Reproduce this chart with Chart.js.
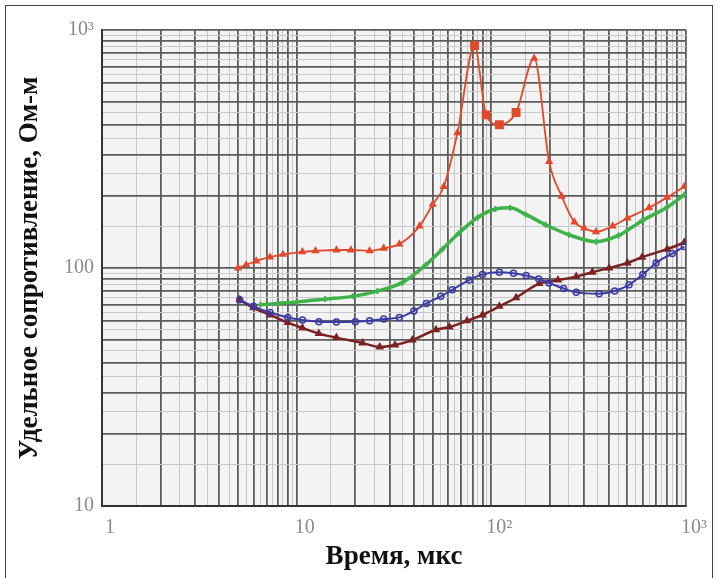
<!DOCTYPE html>
<html>
<head>
<meta charset="utf-8">
<script src="https://cdn.jsdelivr.net/npm/chart.js@4/dist/chart.umd.min.js"></script>
<style>
  body { margin: 0; background: #fff; }
  #wrap { position: relative; width: 718px; height: 578px; overflow: hidden; }
  #frame { position: absolute; left: 5px; top: 5px; width: 706px; height: 590px;
           border: 1.5px solid #444; pointer-events: none; }
</style>
</head>
<body>
<div id="wrap">
  <canvas id="chart" width="718" height="578"></canvas>
  <div id="frame"></div>
</div>
<script>
// Время, мкс / удельное сопротивление, Ом·м
const tRed = [5, 5.5, 6.2, 7.3, 8.5, 10.7, 12.5, 16, 19, 23.7, 28, 33.7, 42.8, 50, 57, 67, 82, 94, 110, 134, 166, 198, 230, 267, 300, 345, 420, 500, 646, 800, 980];
const rRed = [100, 103, 107, 111, 114, 117, 118, 119, 119, 118, 121, 126, 150, 185, 220, 370, 860, 440, 400, 450, 760, 280, 200, 156, 147, 142, 150, 162, 179, 198, 220];

const tGreen = [6.5, 8, 10, 14, 19.4, 26, 35, 46, 56, 68, 85, 105, 125, 150, 190, 250, 345, 450, 595, 800, 980];
const rGreen = [70, 71, 72, 74, 76, 80, 87, 103, 120, 140, 163, 177, 179, 168, 152, 138, 129, 137, 158, 180, 203];

const tBlue = [5.1, 6, 7.3, 9, 10.7, 13, 16, 20, 23.7, 28, 33.7, 40, 46.4, 55, 63, 77, 90, 110, 130, 151, 175, 198, 235, 273, 358, 430, 510, 600, 702, 850, 980];
const rBlue = [73.5, 69, 65, 62, 60.5, 59.5, 59.3, 59.5, 60, 61, 62, 66, 71, 76, 81, 89, 94, 96, 95, 93, 90, 86.5, 82, 79, 78, 80, 85, 94, 105, 115, 123];

const tBrown = [5.1, 6, 7.3, 9, 10.7, 13, 16, 21.8, 26.7, 32, 39.3, 52, 61, 75, 90, 110, 134, 176, 220, 273, 330, 403, 500, 595, 800, 980];
const rBrown = [73.5, 68, 63.5, 59, 56, 53, 51, 48.4, 46.6, 47.5, 49.8, 55, 56.5, 60, 63.5, 69, 75, 86, 89, 92, 96, 100, 105, 111, 120, 128];

const xLabels = { 1: '1', 10: '10', 100: '10²', 1000: '10³' };
const yLabels = { 10: '10', 100: '100', 1000: '10³' };

const pts = (ts, rs) => ts.map((t, i) => ({ x: t, y: rs[i] }));

function isMajor(v) {
  const m = v / Math.pow(10, Math.floor(Math.log10(v) + 1e-9));
  return Math.abs(m - Math.round(m)) < 1e-6;
}

// сетка: 1..9 в каждой декаде + промежуточные линии
function logGrid(min, max) {
  const out = [];
  for (let d = min; d < max; d *= 10) {
    for (let k = 1; k <= 9; k++) {
      out.push({ value: d * k });
      out.push({ value: d * (k + 0.5) });
    }
  }
  out.push({ value: max });
  return out.filter(t => t.value <= max);
}

const plotBg = {
  id: 'plotBg',
  beforeDraw(chart) {
    const { ctx, chartArea: a } = chart;
    ctx.save();
    ctx.fillStyle = '#f3f3f3';
    ctx.fillRect(a.left, a.top, a.right - a.left, a.bottom - a.top);
    ctx.restore();
  }
};

const tickFont = { family: 'Liberation Serif', size: 20 };
const titleFont = { family: 'Liberation Serif', size: 27, weight: 'bold' };

const gridOpts = {
  color: c => (c.tick && isMajor(c.tick.value)) ? '#5c5c5c' : '#c9c9c9',
  lineWidth: c => (c.tick && isMajor(c.tick.value)) ? 1.8 : 1,
  drawTicks: false
};

// квадратные маркеры в районе первого пика и провала
const bigMark = c => c.raw && c.raw.x > 75 && c.raw.x < 145;

new Chart(document.getElementById('chart'), {
  type: 'line',
  data: {
    datasets: [
      { data: pts(tRed, rRed), borderColor: '#e2492b', backgroundColor: '#e2492b', borderWidth: 1.8,
        pointStyle: c => bigMark(c) ? 'rect' : 'triangle',
        pointRadius: c => bigMark(c) ? 5 : 3 },
      { data: pts(tGreen, rGreen), borderColor: '#3fb24a', backgroundColor: '#3fb24a', borderWidth: 3.5,
        pointStyle: 'cross', pointRadius: 3, pointBorderWidth: 2 },
      { data: pts(tBlue, rBlue), borderColor: '#3b3ba6', backgroundColor: 'rgba(0,0,0,0)', borderWidth: 2,
        pointStyle: 'circle', pointRadius: 3, pointBorderWidth: 1.5 },
      { data: pts(tBrown, rBrown), borderColor: '#7a2222', backgroundColor: '#7a2222', borderWidth: 2.5,
        pointStyle: 'triangle', pointRadius: 2.5 }
    ]
  },
  options: {
    responsive: false,
    animation: false,
    cubicInterpolationMode: 'monotone',
    layout: { padding: { top: 30, right: 32, left: 0, bottom: 0 } },
    plugins: { legend: { display: false }, tooltip: { enabled: false } },
    scales: {
      x: {
        type: 'logarithmic', min: 1, max: 1000,
        afterBuildTicks: s => { s.ticks = logGrid(1, 1000); },
        afterFit: s => { s.height = 72; s.paddingLeft = 0; s.paddingRight = 0; },
        grid: gridOpts,
        border: { display: true, color: '#333', width: 2 },
        ticks: { autoSkip: false, maxRotation: 0, padding: 10, labelOffset: 8,
                 color: '#8a8a8a', font: tickFont,
                 callback: v => xLabels[v] || '' },
        title: { display: true, text: 'Время, мкс', color: '#111', font: titleFont,
                 padding: { top: 0, bottom: 5 } }
      },
      y: {
        type: 'logarithmic', min: 10, max: 1000,
        afterBuildTicks: s => { s.ticks = logGrid(10, 1000); },
        afterFit: s => { s.width = 102; s.paddingTop = 0; s.paddingBottom = 0; },
        grid: gridOpts,
        border: { display: true, color: '#333', width: 2 },
        ticks: { autoSkip: false, padding: 8, color: '#8a8a8a', font: tickFont,
                 callback: v => yLabels[v] || '' },
        title: { display: true, text: 'Удельное сопротивление, Ом-м', color: '#111', font: titleFont,
                 padding: { top: 14, bottom: 0 } }
      }
    }
  },
  plugins: [plotBg]
});
</script>
</body>
</html>
